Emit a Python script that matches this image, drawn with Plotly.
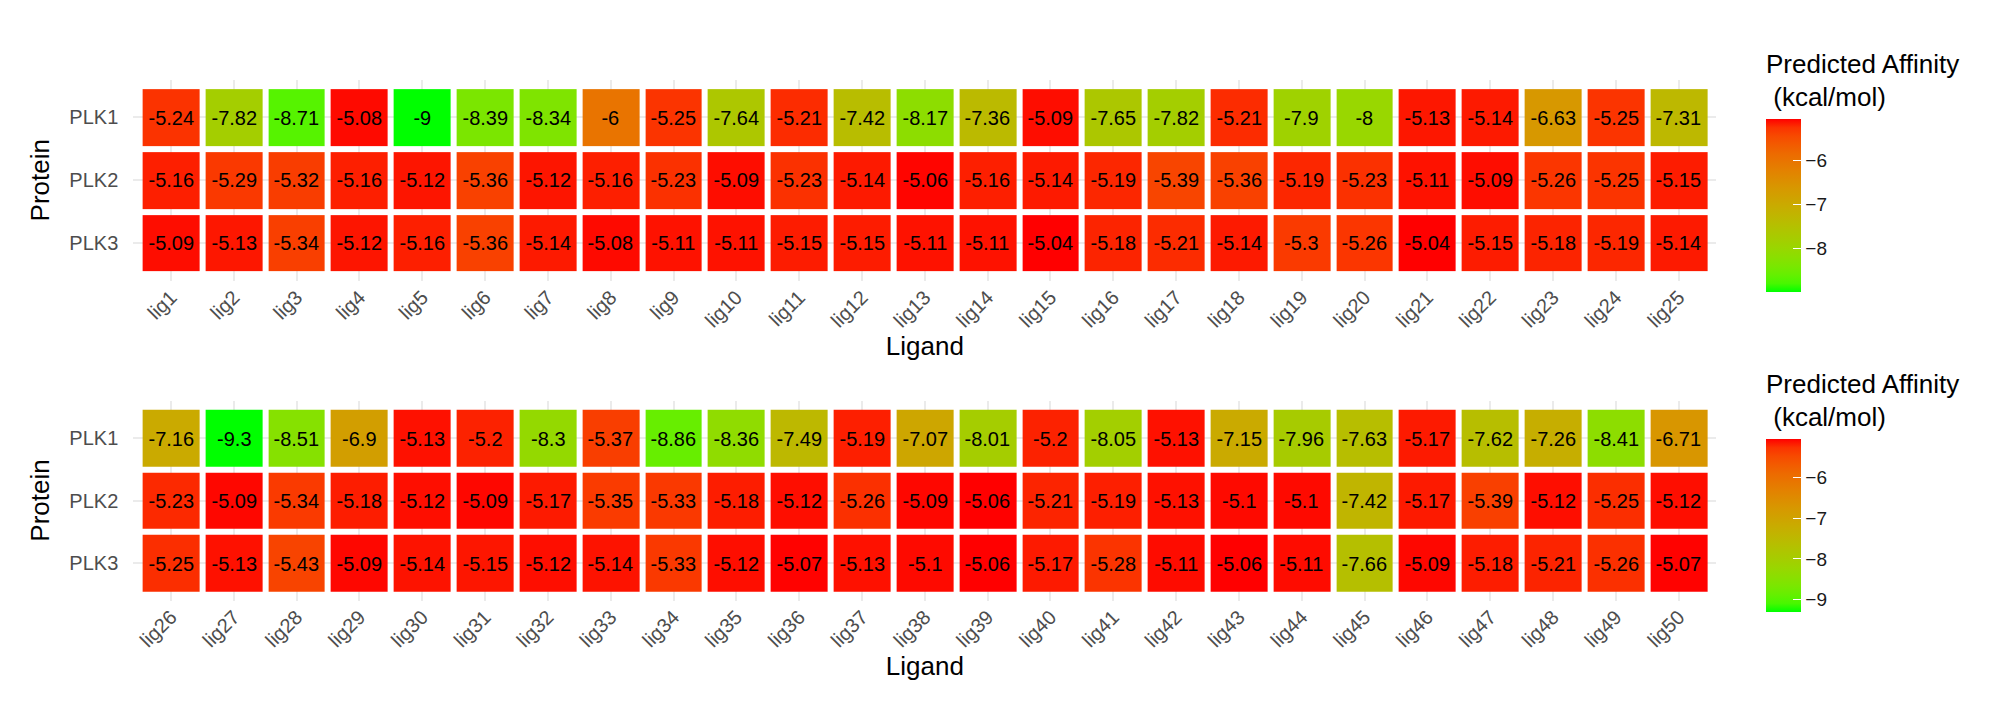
import numpy as np
import plotly.graph_objects as go

# data
proteins = ['PLK1', 'PLK2', 'PLK3']
ligands_a = ['lig' + str(i) for i in range(1, 26)]
ligands_b = ['lig' + str(i) for i in range(26, 51)]

plk1_a = [-5.24, -7.82, -8.71, -5.08, -9, -8.39, -8.34, -6, -5.25, -7.64, -5.21, -7.42, -8.17,
          -7.36, -5.09, -7.65, -7.82, -5.21, -7.9, -8, -5.13, -5.14, -6.63, -5.25, -7.31]
plk2_a = [-5.16, -5.29, -5.32, -5.16, -5.12, -5.36, -5.12, -5.16, -5.23, -5.09, -5.23, -5.14, -5.06,
          -5.16, -5.14, -5.19, -5.39, -5.36, -5.19, -5.23, -5.11, -5.09, -5.26, -5.25, -5.15]
plk3_a = [-5.09, -5.13, -5.34, -5.12, -5.16, -5.36, -5.14, -5.08, -5.11, -5.11, -5.15, -5.15, -5.11,
          -5.11, -5.04, -5.18, -5.21, -5.14, -5.3, -5.26, -5.04, -5.15, -5.18, -5.19, -5.14]

plk1_b = [-7.16, -9.3, -8.51, -6.9, -5.13, -5.2, -8.3, -5.37, -8.86, -8.36, -7.49, -5.19, -7.07,
          -8.01, -5.2, -8.05, -5.13, -7.15, -7.96, -7.63, -5.17, -7.62, -7.26, -8.41, -6.71]
plk2_b = [-5.23, -5.09, -5.34, -5.18, -5.12, -5.09, -5.17, -5.35, -5.33, -5.18, -5.12, -5.26, -5.09,
          -5.06, -5.21, -5.19, -5.13, -5.1, -5.1, -7.42, -5.17, -5.39, -5.12, -5.25, -5.12]
plk3_b = [-5.25, -5.13, -5.43, -5.09, -5.14, -5.15, -5.12, -5.14, -5.33, -5.12, -5.07, -5.13, -5.1,
          -5.06, -5.17, -5.28, -5.11, -5.06, -5.11, -7.66, -5.09, -5.18, -5.21, -5.26, -5.07]

cbar_ticks_a = [-6, -7, -8]
cbar_ticks_b = [-6, -7, -8, -9]

W, H = 2000, 711
FONT = 'Liberation Sans'


# green -> red gradient interpolated in Lab, like ggplot's scale_fill_gradient
def srgb_to_lab(rgb):
    c = np.array(rgb) / 255.0
    c = np.where(c > 0.04045, ((c + 0.055) / 1.055) ** 2.4, c / 12.92)
    m = np.array([[0.4124, 0.3576, 0.1805], [0.2126, 0.7152, 0.0722], [0.0193, 0.1192, 0.9505]])
    xyz = m @ c / np.array([0.95047, 1.0, 1.08883])
    f = np.where(xyz > 0.008856, np.cbrt(xyz), 7.787 * xyz + 16 / 116)
    return np.array([116 * f[1] - 16, 500 * (f[0] - f[1]), 200 * (f[1] - f[2])])


def lab_to_srgb(lab):
    fy = (lab[0] + 16) / 116
    f = np.array([fy + lab[1] / 500, fy, fy - lab[2] / 200])
    xyz = np.where(f ** 3 > 0.008856, f ** 3, (f - 16 / 116) / 7.787) * np.array([0.95047, 1.0, 1.08883])
    m = np.array([[3.2406, -1.5372, -0.4986], [-0.9689, 1.8758, 0.0415], [0.0557, -0.2040, 1.0570]])
    c = np.clip(m @ xyz, 0, 1)
    c = np.where(c > 0.0031308, 1.055 * c ** (1 / 2.4) - 0.055, 12.92 * c)
    return 'rgb(%d,%d,%d)' % tuple(np.round(np.clip(c, 0, 1) * 255))


lo, hi = srgb_to_lab((0, 255, 0)), srgb_to_lab((255, 0, 0))
colorscale = [[t, lab_to_srgb(lo + (hi - lo) * t)] for t in np.linspace(0, 1, 21)]

fig = go.Figure()

panels = [
    (ligands_a, [plk1_a, plk2_a, plk3_a], 'x', 'y', 'coloraxis'),
    (ligands_b, [plk1_b, plk2_b, plk3_b], 'x2', 'y2', 'coloraxis2'),
]
for ligs, z, xa, ya, ca in panels:
    fig.add_trace(go.Heatmap(
        x=ligs, y=proteins, z=z,
        text=[['{:g}'.format(v) for v in row] for row in z],
        texttemplate='%{text}', textfont=dict(family=FONT, size=20, color='black'),
        xgap=6, ygap=6, xaxis=xa, yaxis=ya, coloraxis=ca,
        hovertemplate='Ligand=%{x}<br>Protein=%{y}<br>Affinity=%{z}<extra></extra>',
    ))

# panel positions (pixels from top of the page)
px_left, px_right = 125.3, 1708.4
tops = [(71.8, 272.7), (392.5, 592.5)]
bar_bottoms = [294, 614]
cbar_ticks = [cbar_ticks_a, cbar_ticks_b]

axis_common = dict(showgrid=True, gridcolor='#EBEBEB', gridwidth=1.5, zeroline=False,
                   showline=False, ticks='', tickfont=dict(family=FONT, size=20, color='#4D4D4D'))

cbar_common = dict(thickness=35, len=262, lenmode='pixels', x=1748 / W, xanchor='left',
                   yanchor='bottom', outlinewidth=0, ticks='inside', tickcolor='white', ticklen=8,
                   tickfont=dict(family=FONT, size=19, color='#1A1A1A'),
                   title=dict(text='Predicted Affinity<br> (kcal/mol)', side='top',
                              font=dict(family=FONT, size=26, color='black')))

layout = dict(
    width=W, height=H, margin=dict(l=0, r=0, t=0, b=0),
    plot_bgcolor='white', paper_bgcolor='white',
    font=dict(family=FONT),
)
for i, (top, bot) in enumerate(tops):
    sfx = '' if i == 0 else str(i + 1)
    layout['xaxis' + sfx] = dict(axis_common, domain=[px_left / W, px_right / W], range=[-0.6, 24.6],
                                 anchor='y' + sfx, tickangle=-45,
                                 title=dict(text='Ligand', standoff=0,
                                            font=dict(family=FONT, size=26, color='black')))
    layout['yaxis' + sfx] = dict(axis_common, domain=[1 - bot / H, 1 - top / H], range=[2.6, -0.6],
                                 anchor='x' + sfx, ticklabelstandoff=14,
                                 title=dict(text='Protein', standoff=12,
                                            font=dict(family=FONT, size=26, color='black')))
    layout['coloraxis' + sfx] = dict(colorscale=colorscale,
                                     colorbar=dict(cbar_common, y=1 - bar_bottoms[i] / H,
                                                   tickvals=cbar_ticks[i]))

fig.update_layout(**layout)
fig.write_html('out.html')
